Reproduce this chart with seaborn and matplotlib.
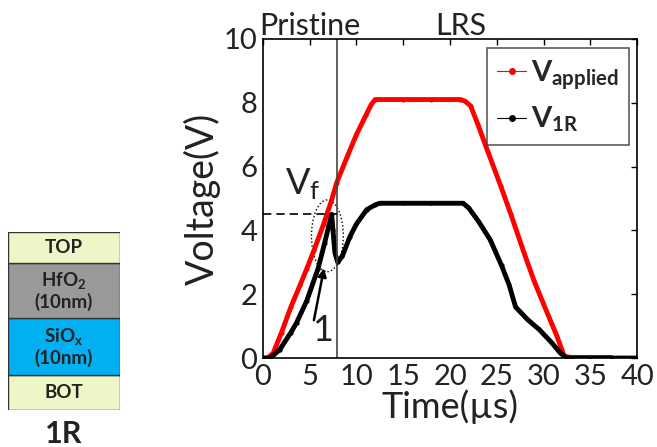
import numpy as np
import pandas as pd
import matplotlib
matplotlib.use("Agg")
import matplotlib.pyplot as plt
from matplotlib.patches import Ellipse
import seaborn as sns

# values
t_applied = [0, 0.5, 1.1, 2, 3, 4, 4.7, 5.5, 6.5, 7.3, 7.9, 9, 10, 11, 11.6, 12,
             15, 18, 21.1, 21.6, 22.2, 23, 24, 25.4, 26.5, 27.9, 29, 30.4, 31.4,
             32.2, 33, 35, 37.2]
v_applied = [0, 0, 0.15, 0.8, 1.6, 2.3, 2.8, 3.4, 4.2, 4.9, 5.5, 6.3, 7.0, 7.6,
             7.95, 8.1, 8.1, 8.1, 8.1, 8.05, 7.9, 7.3, 6.5, 5.4, 4.5, 3.3, 2.4,
             1.4, 0.7, 0.05, 0.02, 0.02, 0.02]

t_1r = [0, 0.8, 1.8, 3, 3.6, 4.7, 5.9, 6.6, 7.35, 7.5, 7.7, 8.0, 8.5, 9.3, 10,
        11.1, 12, 12.5, 15, 18, 21.4, 22, 23, 24.3, 25.5, 26.3, 27, 28.3, 29.5,
        30.8, 31.8, 32.5, 35, 40]
v_1r = [0, 0, 0.26, 0.8, 1.1, 1.8, 2.8, 3.6, 4.5, 4.0, 3.3, 3.0, 3.2, 3.8, 4.2,
        4.65, 4.8, 4.85, 4.85, 4.85, 4.85, 4.7, 4.3, 3.7, 2.9, 2.3, 1.6, 1.2,
        0.9, 0.5, 0.15, 0.0, 0.0, 0.0]

v_form = 4.5
t_switch = 7.9
x_ticks = [0, 5, 10, 15, 20, 25, 30, 35, 40]
y_ticks = [0, 2, 4, 6, 8, 10]

# device stack (bottom to top)
layer_names = ["BOT", "SiO$_\\mathregular{x}$\n(10nm)", "HfO$_\\mathregular{2}$\n(10nm)", "TOP"]
layer_thick = [35, 57, 55, 31]
layer_colors = ["#eef5c6", "#00b0f0", "#999999", "#eef5c6"]

sns.set_theme(style="white")
plt.rcParams["font.family"] = ["Lato", "DejaVu Sans"]
plt.rcParams["mathtext.fontset"] = "custom"
plt.rcParams["mathtext.rm"] = "Lato"
plt.rcParams["mathtext.bf"] = "Lato:bold"
plt.rcParams["mathtext.it"] = "Lato"

df_app = pd.DataFrame({"t": t_applied, "v": v_applied})
df_1r = pd.DataFrame({"t": t_1r, "v": v_1r})

fig = plt.figure(figsize=(6.57, 4.47), dpi=100)
ax = fig.add_axes([0.400, 0.199, 0.570, 0.714])

sns.lineplot(data=df_app, x="t", y="v", ax=ax, color="#ff0000", lw=3.5,
             marker="o", markersize=3, markeredgewidth=0, label=r"$\mathbf{V_{applied}}$")
sns.lineplot(data=df_1r, x="t", y="v", ax=ax, color="black", lw=3.5,
             marker="o", markersize=3, markeredgewidth=0, label=r"$\mathbf{V_{1R}}$")

ax.set_xlim(0, 40)
ax.set_ylim(0, 10)
ax.set_xticks(x_ticks)
ax.set_yticks(y_ticks)
ax.tick_params(direction="in", length=4, width=1, top=True, right=True,
               labelsize=21, colors="black", pad=4)
for lab in ax.get_xticklabels() + ax.get_yticklabels():
    lab.set_color("#222222")
for s in ax.spines.values():
    s.set_color("black")
    s.set_linewidth(1.2)
ax.set_xlabel("Time(µs)", fontsize=26, color="#222222", labelpad=0)
ax.set_ylabel("Voltage(V)", fontsize=27, color="#222222", labelpad=2)

ax.axvline(t_switch, color="#444444", lw=1.2)
ax.hlines(v_form, 0, t_switch, colors="black", linestyles=(0, (5, 3)), lw=1.2)
ax.add_patch(Ellipse((6.9, 3.83), 3.4, 2.25, fill=False, ls=":", lw=1.0, ec="black"))
ax.annotate("", xy=(6.6, 2.9), xytext=(5.4, 1.1),
            arrowprops=dict(arrowstyle="-|>", color="black", lw=1.8, mutation_scale=12))
ax.text(6.4, 0.85, "1", fontsize=26, ha="center", va="center", color="#222222")
ax.text(2.4, 5.45, r"$\mathregular{V_f}$", fontsize=26, ha="left", va="center", color="#222222")

ax.text(-0.4, 9.95, "Pristine", fontsize=22, ha="left", va="bottom", color="#222222")
ax.text(18.4, 9.95, "LRS", fontsize=22, ha="left", va="bottom", color="#222222")

leg = ax.legend(loc="upper right", fontsize=21, frameon=True, fancybox=False,
                handlelength=1.0, handletextpad=0.15, borderpad=0.35,
                labelspacing=0.45, borderaxespad=0.3)
leg.get_frame().set_edgecolor("#333333")
leg.get_frame().set_linewidth(1.2)
for h in leg.legend_handles:
    h.set_linewidth(0.8)
    h.set_markersize(5)

# stack diagram
sx = fig.add_axes([0.012, 0.083, 0.171, 0.398])
bottoms = np.cumsum([0] + layer_thick[:-1])
sx.bar([0] * len(layer_thick), layer_thick, bottom=bottoms, width=1.0,
       color=layer_colors, edgecolor="#333333", linewidth=1.0, align="edge")
for b, h, name in zip(bottoms, layer_thick, layer_names):
    sx.text(0.5, b + h / 2, name, ha="center", va="center", fontsize=13.5,
            fontweight="bold", color="#222222", linespacing=1.15)
sx.set_xlim(0, 1)
sx.set_ylim(0, sum(layer_thick))
sx.axis("off")
fig.text(0.097, 0.03, "1R", fontsize=22, fontweight="bold", ha="center", va="center",
         color="#222222")

fig.savefig("out.png", dpi=100)
